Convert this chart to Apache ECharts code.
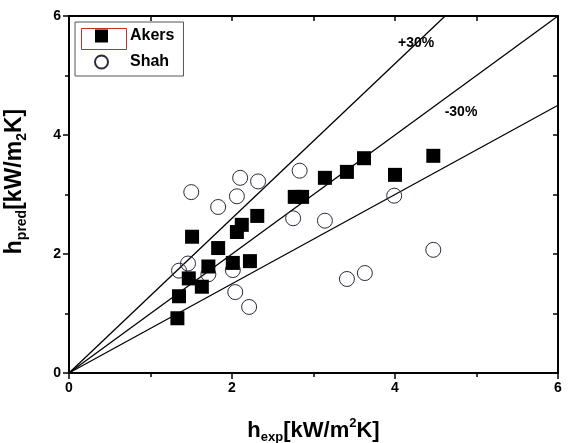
<!DOCTYPE html>
<html>
<head>
<meta charset="utf-8">
<script src="https://cdn.jsdelivr.net/npm/echarts@6/dist/echarts.min.js"></script>
<style>
  html, body { margin: 0; padding: 0; background: #fff; }
  #chart_1 { width: 569px; height: 443px; }
</style>
</head>
<body>
<div id="chart_1"></div>
<script>
// measured vs predicted heat transfer coefficient [kW/m2K]
var akersX = [1.33, 1.35, 1.47, 1.63, 1.71, 2.01, 2.22, 1.83, 1.51, 2.06, 2.12, 2.31, 2.77, 2.86, 3.14, 3.41, 3.62, 4.00, 4.47];
var akersY = [0.92, 1.29, 1.59, 1.45, 1.79, 1.85, 1.88, 2.10, 2.29, 2.37, 2.49, 2.64, 2.96, 2.96, 3.28, 3.38, 3.61, 3.33, 3.65];
var shahX = [1.50, 1.83, 2.10, 2.06, 2.32, 2.83, 2.75, 3.14, 3.99, 4.47, 3.41, 3.63, 1.35, 1.46, 1.71, 2.01, 2.04, 2.21];
var shahY = [3.04, 2.79, 3.28, 2.97, 3.22, 3.40, 2.60, 2.56, 2.98, 2.07, 1.58, 1.68, 1.72, 1.84, 1.66, 1.73, 1.36, 1.11];
// reference lines y = k * x
var slopeNames = ['+30%', '0', '-30%'];
var slopes = [1.3, 1.0, 0.75];
var axisMax = 6;

var chart_1 = echarts.init(document.getElementById('chart_1'));

function pairs(xs, ys) {
    var out = [];
    for (var i = 0; i < xs.length; i++) {
        out.push([xs[i], ys[i]]);
    }
    return out;
}

function lineEnd(k) {
    // clip the line to the plot box
    if (k * axisMax > axisMax) return [axisMax / k, axisMax];
    return [axisMax, k * axisMax];
}

var font = 'Liberation Sans, Arial, sans-serif';

var series = [];
for (var i = 0; i < slopes.length; i++) {
    var s = {
        type: 'line',
        name: slopeNames[i],
        data: [[0, 0], lineEnd(slopes[i])],
        showSymbol: false,
        symbol: 'none',
        silent: true,
        lineStyle: { color: '#000', width: 1.3 },
        z: 1
    };
    if (i != 1) {
        s.markPoint = {
            symbol: 'circle',
            symbolSize: 0,
            data: [{
                coord: i == 0 ? [4.26, 5.55] : [4.81, 4.39],
                label: {
                    show: true,
                    formatter: slopeNames[i],
                    color: '#000',
                    fontFamily: font,
                    fontWeight: 'bold',
                    fontSize: 14
                }
            }]
        };
    }
    series.push(s);
}

series.push({
    type: 'scatter',
    name: 'Akers',
    data: pairs(akersX, akersY),
    symbol: 'rect',
    symbolSize: 14,
    itemStyle: { color: '#000', opacity: 1 },
    z: 3
});
series.push({
    type: 'scatter',
    name: 'Shah',
    data: pairs(shahX, shahY),
    symbol: 'circle',
    symbolSize: 15,
    itemStyle: { color: 'rgba(255,255,255,0)', borderColor: '#2a2a40', borderWidth: 1, opacity: 1 },
    z: 2
});

var tickLabel = {
    color: '#000',
    fontFamily: font,
    fontWeight: 'bold',
    fontSize: 14
};

function titleRich(size) {
    var small = Math.round(size * 0.6);
    return {
        m: { fontFamily: font, fontWeight: 'bold', fontSize: size, color: '#000' },
        sub: { fontFamily: font, fontWeight: 'bold', fontSize: small, color: '#000', verticalAlign: 'bottom', padding: [Math.round(size * 0.65), 0, 0, 0] },
        sup: { fontFamily: font, fontWeight: 'bold', fontSize: small, color: '#000', verticalAlign: 'top', padding: [0, 0, Math.round(size * 0.65), 0] }
    };
}

var axisLineStyle = { color: '#000', width: 2 };
var tickStyle = { color: '#000', width: 1.5 };

var option = {
    backgroundColor: '#fff',
    animation: false,
    grid: { left: 69, right: 11, top: 16, bottom: 70, outerBoundsMode: 'none' },
    legend: {
        data: [
            { name: 'Akers', icon: 'rect' },
            { name: 'Shah' }
        ],
        orient: 'vertical',
        left: 75,
        top: 22,
        padding: [6, 9, 6, 19],
        itemGap: 10,
        itemWidth: 13,
        itemHeight: 13,
        borderColor: '#555',
        borderWidth: 1,
        selectedMode: false,
        textStyle: { fontFamily: font, fontWeight: 'bold', fontSize: 16, color: '#000', padding: [0, 0, 0, 17] }
    },
    graphic: [{
        type: 'rect',
        left: 79,
        top: 26,
        shape: { width: 45, height: 21 },
        style: { fill: 'none', stroke: '#c0302a', lineWidth: 1 }
    }],
    xAxis: [{
        type: 'value',
        min: 0,
        max: axisMax,
        interval: 2,
        name: '{m|h}{sub|exp}{m|[kW/m}{sup|2}{m|K]}',
        nameLocation: 'middle',
        nameGap: 44,
        nameTextStyle: { rich: titleRich(22) },
        axisLine: { onZero: false, lineStyle: axisLineStyle },
        axisTick: { length: 6, lineStyle: tickStyle },
        minorTick: { show: true, splitNumber: 2, length: 4, lineStyle: tickStyle },
        axisLabel: tickLabel,
        splitLine: { show: false }
    }, {
        type: 'value',
        position: 'top',
        min: 0,
        max: axisMax,
        interval: 1,
        axisLine: { show: true, onZero: false, lineStyle: axisLineStyle },
        axisTick: { show: true, inside: true, length: 5, lineStyle: tickStyle },
        axisLabel: { show: false },
        splitLine: { show: false }
    }],
    yAxis: [{
        type: 'value',
        min: 0,
        max: axisMax,
        interval: 2,
        name: '{m|h}{sub|pred}{m|[kW/m}{sub|2}{m|K]}',
        nameLocation: 'middle',
        nameRotate: 90,
        nameGap: 40,
        nameTextStyle: { rich: titleRich(23), padding: [0, 0, 0, 26] },
        axisLine: { show: true, onZero: false, lineStyle: axisLineStyle },
        axisTick: { show: true, length: 6, lineStyle: tickStyle },
        minorTick: { show: true, splitNumber: 2, length: 4, lineStyle: tickStyle },
        axisLabel: tickLabel,
        splitLine: { show: false }
    }, {
        type: 'value',
        position: 'right',
        min: 0,
        max: axisMax,
        interval: 1,
        axisLine: { show: true, onZero: false, lineStyle: axisLineStyle },
        axisTick: { show: true, inside: true, length: 5, lineStyle: tickStyle },
        axisLabel: { show: false },
        splitLine: { show: false }
    }],
    series: series
};

chart_1.setOption(option);
</script>
</body>
</html>
